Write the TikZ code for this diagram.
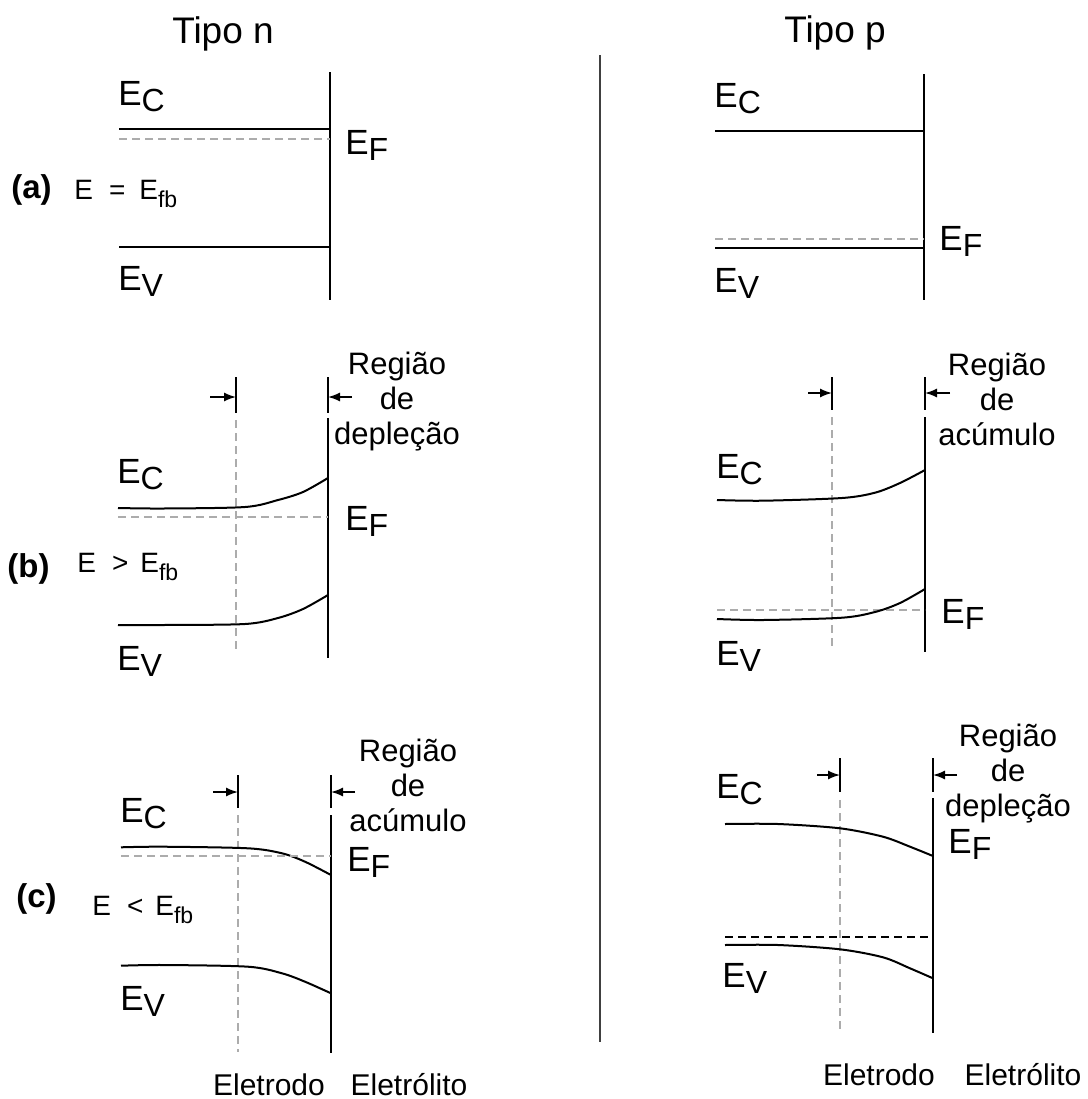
\documentclass[tikz,border=0pt]{standalone}
\usepackage{fontspec}
\setmainfont{Liberation Sans}
\usetikzlibrary{arrows.meta}

% band level labels
\newcommand{\lev}[1]{E\raisebox{-3.3pt}{\fontsize{16}{16}\selectfont #1}}
\newcommand{\efb}{E\raisebox{-4pt}{\fontsize{11.5}{11.5}\selectfont fb}}

\begin{document}
\begin{tikzpicture}[
    x=0.5pt, y=-0.5pt,
    band/.style={line width=1pt},
    wall/.style={line width=0.75pt},
    fermi/.style={gray!65,line width=0.7pt,dash pattern=on 4pt off 2.5pt},
    edgeline/.style={gray!65,line width=0.7pt,dash pattern=on 4pt off 2.5pt},
    marker/.style={line width=0.75pt,-{Latex[length=6pt,width=4.5pt]}},
    lvl/.style={font=\fontsize{17.5}{20}\selectfont,inner sep=0pt,anchor=base west},
    title/.style={font=\fontsize{18.5}{22}\selectfont,inner sep=0pt,anchor=base},
    tag/.style={font=\fontsize{16.5}{18}\selectfont\bfseries,inner sep=0pt,anchor=base west},
    cond/.style={font=\fontsize{14}{16}\selectfont,inner sep=0pt,anchor=base west},
    region/.style={font=\fontsize{15.5}{17.5}\selectfont,inner sep=0pt,align=center,anchor=base},
    side/.style={font=\fontsize{15}{17}\selectfont,inner sep=0pt,anchor=base}
]
    \useasboundingbox (0,0) rectangle (1088,1099);

    % Titles and divider
    \node[title] (tn) at (223,43) {Tipo n};
    \node[title] (tp) at (835,42) {Tipo p};
    \draw[line width=1pt,black!75] (600,55) -- (600,1042);

    % (a) flat band, tipo n
    \draw[wall] (330,72) -- (330,300);
    \draw[band] (119,129) -- (330,129);
    \draw[fermi] (119,139) -- (330,139);
    \draw[band] (119,247) -- (330,247);
    \node[lvl] (ecna) at (118,105) {\lev{C}};
    \node[lvl] (efna) at (345,154) {\lev{F}};
    \node[lvl] (evna) at (118,290) {\lev{V}};
    \node[tag] (taga) at (11,198) {(a)};
    \node[cond] (conda) at (74,199) {E\hspace{8pt}=\hspace{7pt}\efb};

    % (a) flat band, tipo p
    \draw[wall] (924,74) -- (924,300);
    \draw[band] (715,131) -- (924,131);
    \draw[fermi] (715,239) -- (924,239);
    \draw[band] (715,248) -- (924,248);
    \node[lvl] (ecpa) at (714,107) {\lev{C}};
    \node[lvl] (efpa) at (939,250) {\lev{F}};
    \node[lvl] (evpa) at (714,292) {\lev{V}};

    % (b) tipo n: depletion
    \draw[wall] (328,377) -- (328,413);
    \draw[wall] (328,418) -- (328,658);
    \draw[wall] (236,377) -- (236,413);
    \draw[edgeline] (236,420) -- (236,653);
    \coordinate (nbl) at (210,397);
    \coordinate (nbe) at (236,397);
    \coordinate (nbr) at (352,397);
    \coordinate (nbw) at (328,397);
    \draw[marker] (nbl) -- (nbe);
    \draw[marker] (nbr) -- (nbw);
    \draw[band] plot[smooth,tension=0.5] coordinates {(118,508) (163,508.5) (245,507) (278,500) (303,492) (328,478)};
    \draw[fermi] (118,517) -- (328,517);
    \draw[band] plot[smooth,tension=0.5] coordinates {(118,625) (163,625) (245,624) (278,618) (303,609) (328,595)};
    \node[lvl] (ecnb) at (117,483) {\lev{C}};
    \node[lvl] (efnb) at (345,530) {\lev{F}};
    \node[lvl] (evnb) at (117,670) {\lev{V}};
    \node[tag] (tagb) at (7,577) {(b)};
    \node[cond] (condb) at (77,572) {E\hspace{8pt}>\hspace{6pt}\efb};
    \node[region] (regnb) at (397,444) {Região\\de\\depleção};

    % (b) tipo p: accumulation
    \draw[wall] (925,377) -- (925,410);
    \draw[wall] (925,417) -- (925,652);
    \draw[wall] (832,377) -- (832,410);
    \draw[edgeline] (832,417) -- (832,647);
    \coordinate (pbl) at (808,393);
    \coordinate (pbe) at (832,393);
    \coordinate (pbr) at (950,393);
    \coordinate (pbw) at (925,393);
    \draw[marker] (pbl) -- (pbe);
    \draw[marker] (pbr) -- (pbw);
    \draw[band] plot[smooth,tension=0.5] coordinates {(717,500) (763,500.7) (842,498) (875,492.7) (900,483) (925,470)};
    \draw[fermi] (717,610) -- (925,610);
    \draw[band] plot[smooth,tension=0.5] coordinates {(717,619) (763,620) (842,617.7) (875,612) (900,603) (925,589)};
    \node[lvl] (ecpb) at (716,478) {\lev{C}};
    \node[lvl] (efpb) at (941,623) {\lev{F}};
    \node[lvl] (evpb) at (716,665) {\lev{V}};
    \node[region] (regpb) at (997,445) {Região\\de\\acúmulo};

    % (c) tipo n: accumulation
    \draw[wall] (331,775) -- (331,808);
    \draw[wall] (331,815) -- (331,1053);
    \draw[wall] (238,775) -- (238,808);
    \draw[edgeline] (238,815) -- (238,1052);
    \coordinate (ncl) at (213,792);
    \coordinate (nce) at (238,792);
    \coordinate (ncr) at (355,792);
    \coordinate (ncw) at (331,792);
    \draw[marker] (ncl) -- (nce);
    \draw[marker] (ncr) -- (ncw);
    \draw[band] plot[smooth,tension=0.5] coordinates {(121,847.3) (163,846.7) (248,848.3) (282,853.3) (305,861.7) (331,875)};
    \draw[fermi] (121,856) -- (331,856);
    \draw[band] plot[smooth,tension=0.5] coordinates {(121,965.7) (163,965) (248,966.7) (282,973.3) (305,981.7) (331,993.3)};
    \node[lvl] (ecnc) at (120,822) {\lev{C}};
    \node[lvl] (efnc) at (347,871) {\lev{F}};
    \node[lvl] (evnc) at (120,1010) {\lev{V}};
    \node[tag] (tagc) at (16,907) {(c)};
    \node[cond] (condc) at (92,915) {E\hspace{8pt}<\hspace{6pt}\efb};
    \node[region] (regnc) at (408,831) {Região\\de\\acúmulo};
    \node[side] (eln) at (269,1095) {Eletrodo};
    \node[side] (etn) at (409,1095) {Eletrólito};

    % (c) tipo p: depletion
    \draw[wall] (933,758) -- (933,792);
    \draw[wall] (933,798) -- (933,1033);
    \draw[wall] (840,758) -- (840,792);
    \draw[edgeline] (840,800) -- (840,1032);
    \coordinate (pcl) at (817,775);
    \coordinate (pce) at (840,775);
    \coordinate (pcr) at (957,775);
    \coordinate (pcw) at (933,775);
    \draw[marker] (pcl) -- (pce);
    \draw[marker] (pcr) -- (pcw);
    \draw[band] plot[smooth,tension=0.5] coordinates {(725,824) (778,824) (840,828.3) (883,836.7) (910,846.7) (933,856)};
    \draw[line width=0.7pt,dash pattern=on 4pt off 2.5pt] (725,937) -- (933,937);
    \draw[band] plot[smooth,tension=0.5] coordinates {(725,945) (778,945) (840,949.3) (883,957.3) (910,968.3) (933,978.3)};
    \node[lvl] (ecpc) at (716,798) {\lev{C}};
    \node[lvl] (efpc) at (948,853) {\lev{F}};
    \node[lvl] (evpc) at (722,987) {\lev{V}};
    \node[region] (regpc) at (1008,816) {Região\\de\\depleção};
    \node[side] (elp) at (879,1085) {Eletrodo};
    \node[side] (etp) at (1023,1085) {Eletrólito};
\end{tikzpicture}
\end{document}
